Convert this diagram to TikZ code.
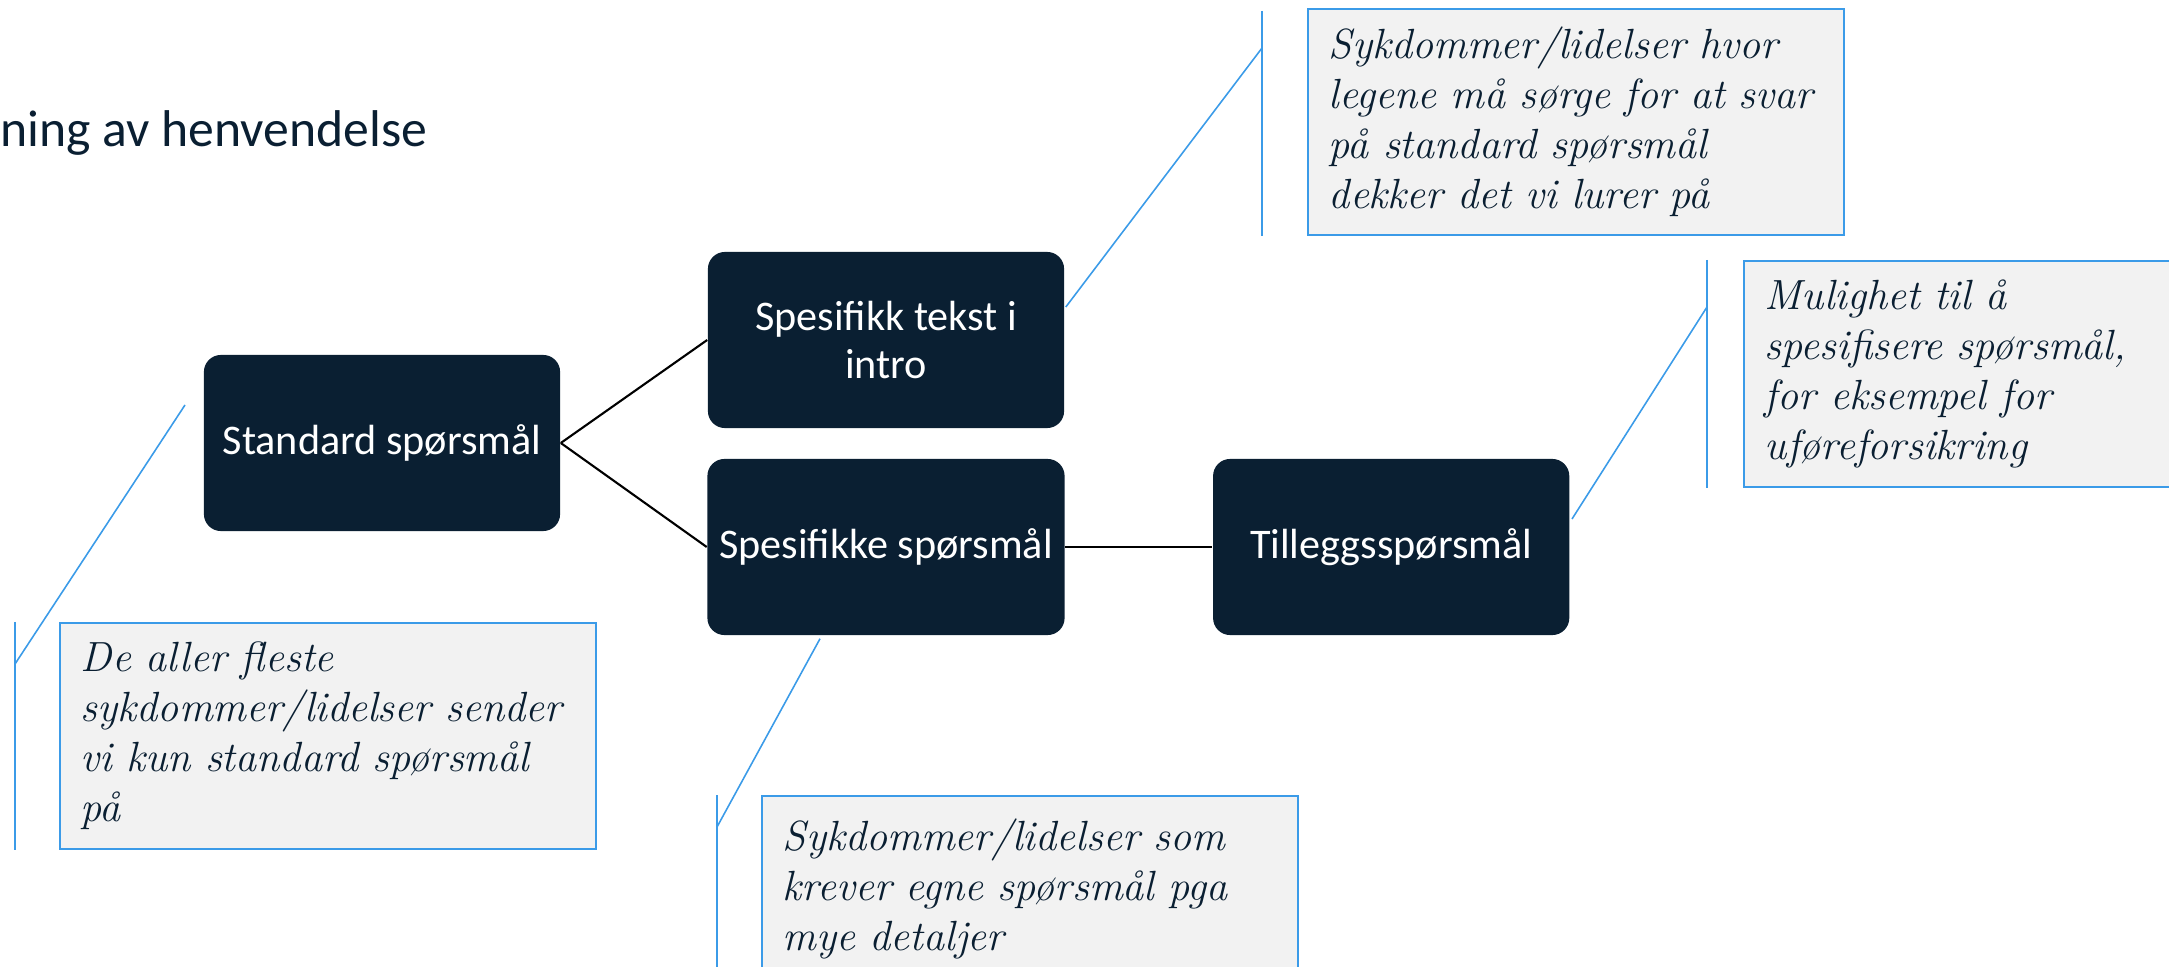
\documentclass[tikz,border=0pt]{standalone}
\usepackage{fontspec}
\newfontfamily\calibri{Carlito}
\usetikzlibrary{positioning, calc}
\definecolor{navy}{RGB}{10,31,50}
\definecolor{noteblue}{RGB}{59,155,232}
\definecolor{notegray}{RGB}{242,242,242}

\begin{document}
\begin{tikzpicture}[x=0.01cm, y=-0.01cm,
  qbox/.style={rectangle, rounded corners=0.17cm, fill=navy, text=white, minimum width=3.56cm, minimum height=1.76cm, align=center, font=\calibri\fontsize{12}{13.4}\selectfont},
  note/.style={rectangle, draw=noteblue, line width=0.5pt, fill=notegray, anchor=north west, minimum width=5.36cm, minimum height=2.26cm, text width=4.94cm, inner xsep=0.21cm, align=left, text=navy, font=\itshape\fontsize{12}{14.2}\selectfont},
  leader/.style={draw=noteblue, line width=0.45pt},
  link/.style={draw=black, line width=0.6pt}]

\clip (0,0) rectangle (2169,967);

\node[anchor=base west, inner sep=0, text=navy, font=\calibri\fontsize{14.7}{17}\selectfont] (title) at (0,147) {ning av henvendelse};

\node[qbox] (std) at (382,443) {Standard spørsmål};
\node[qbox] (intro) at (886,340) {Spesifikk tekst i\\intro};
\node[qbox] (spes) at (886,547) {Spesifikke spørsmål};
\node[qbox, right=1.47cm of spes] (tillegg) {Tilleggsspørsmål};

\draw[link] (std.east) -- (intro.west);
\draw[link] (std.east) -- (spes.west);
\draw[link] (spes) -- (tillegg);

% kommentarer
\node[note] (noteA) at (1307,8) {Sykdommer/lidelser hvor\\legene må sørge for at svar\\på standard spørsmål\\dekker det vi lurer på};
\node[note] (noteB) at (1743,260) {Mulighet til å\\spesifisere spørsmål,\\for eksempel for\\uføreforsikring};
\node[note] (noteC) at (59,622) {De aller fleste\\sykdommer/lidelser sender\\vi kun standard spørsmål\\på};
\node[note, minimum height=1.86cm] (noteD) at (761,795) {Sykdommer/lidelser som\\krever egne spørsmål pga\\mye detaljer};

\coordinate (tipC) at (185,405);

\draw[leader] ($(noteA.north west)+(-45,3)$) -- ($(noteA.south west)+(-45,0)$);
\draw[leader] ($(noteA.north west)+(-45,40)$) -- ($(intro.east)+(1,-33)$);

\draw[leader] ($(noteB.north west)+(-36,0)$) -- ($(noteB.south west)+(-36,0)$);
\draw[leader] ($(noteB.north west)+(-36,47)$) -- ($(tillegg.east)+(2,-28)$);

\draw[leader] ($(noteC.north west)+(-44,0)$) -- ($(noteC.south west)+(-44,0)$);
\draw[leader] ($(noteC.north west)+(-44,42)$) -- (tipC);

\draw[leader] ($(noteD.north west)+(-44,0)$) -- ($(noteD.south west)+(-44,0)$);
\draw[leader] ($(noteD.north west)+(-44,32)$) -- ($(spes.south)+(-66,3)$);

\end{tikzpicture}
\end{document}
